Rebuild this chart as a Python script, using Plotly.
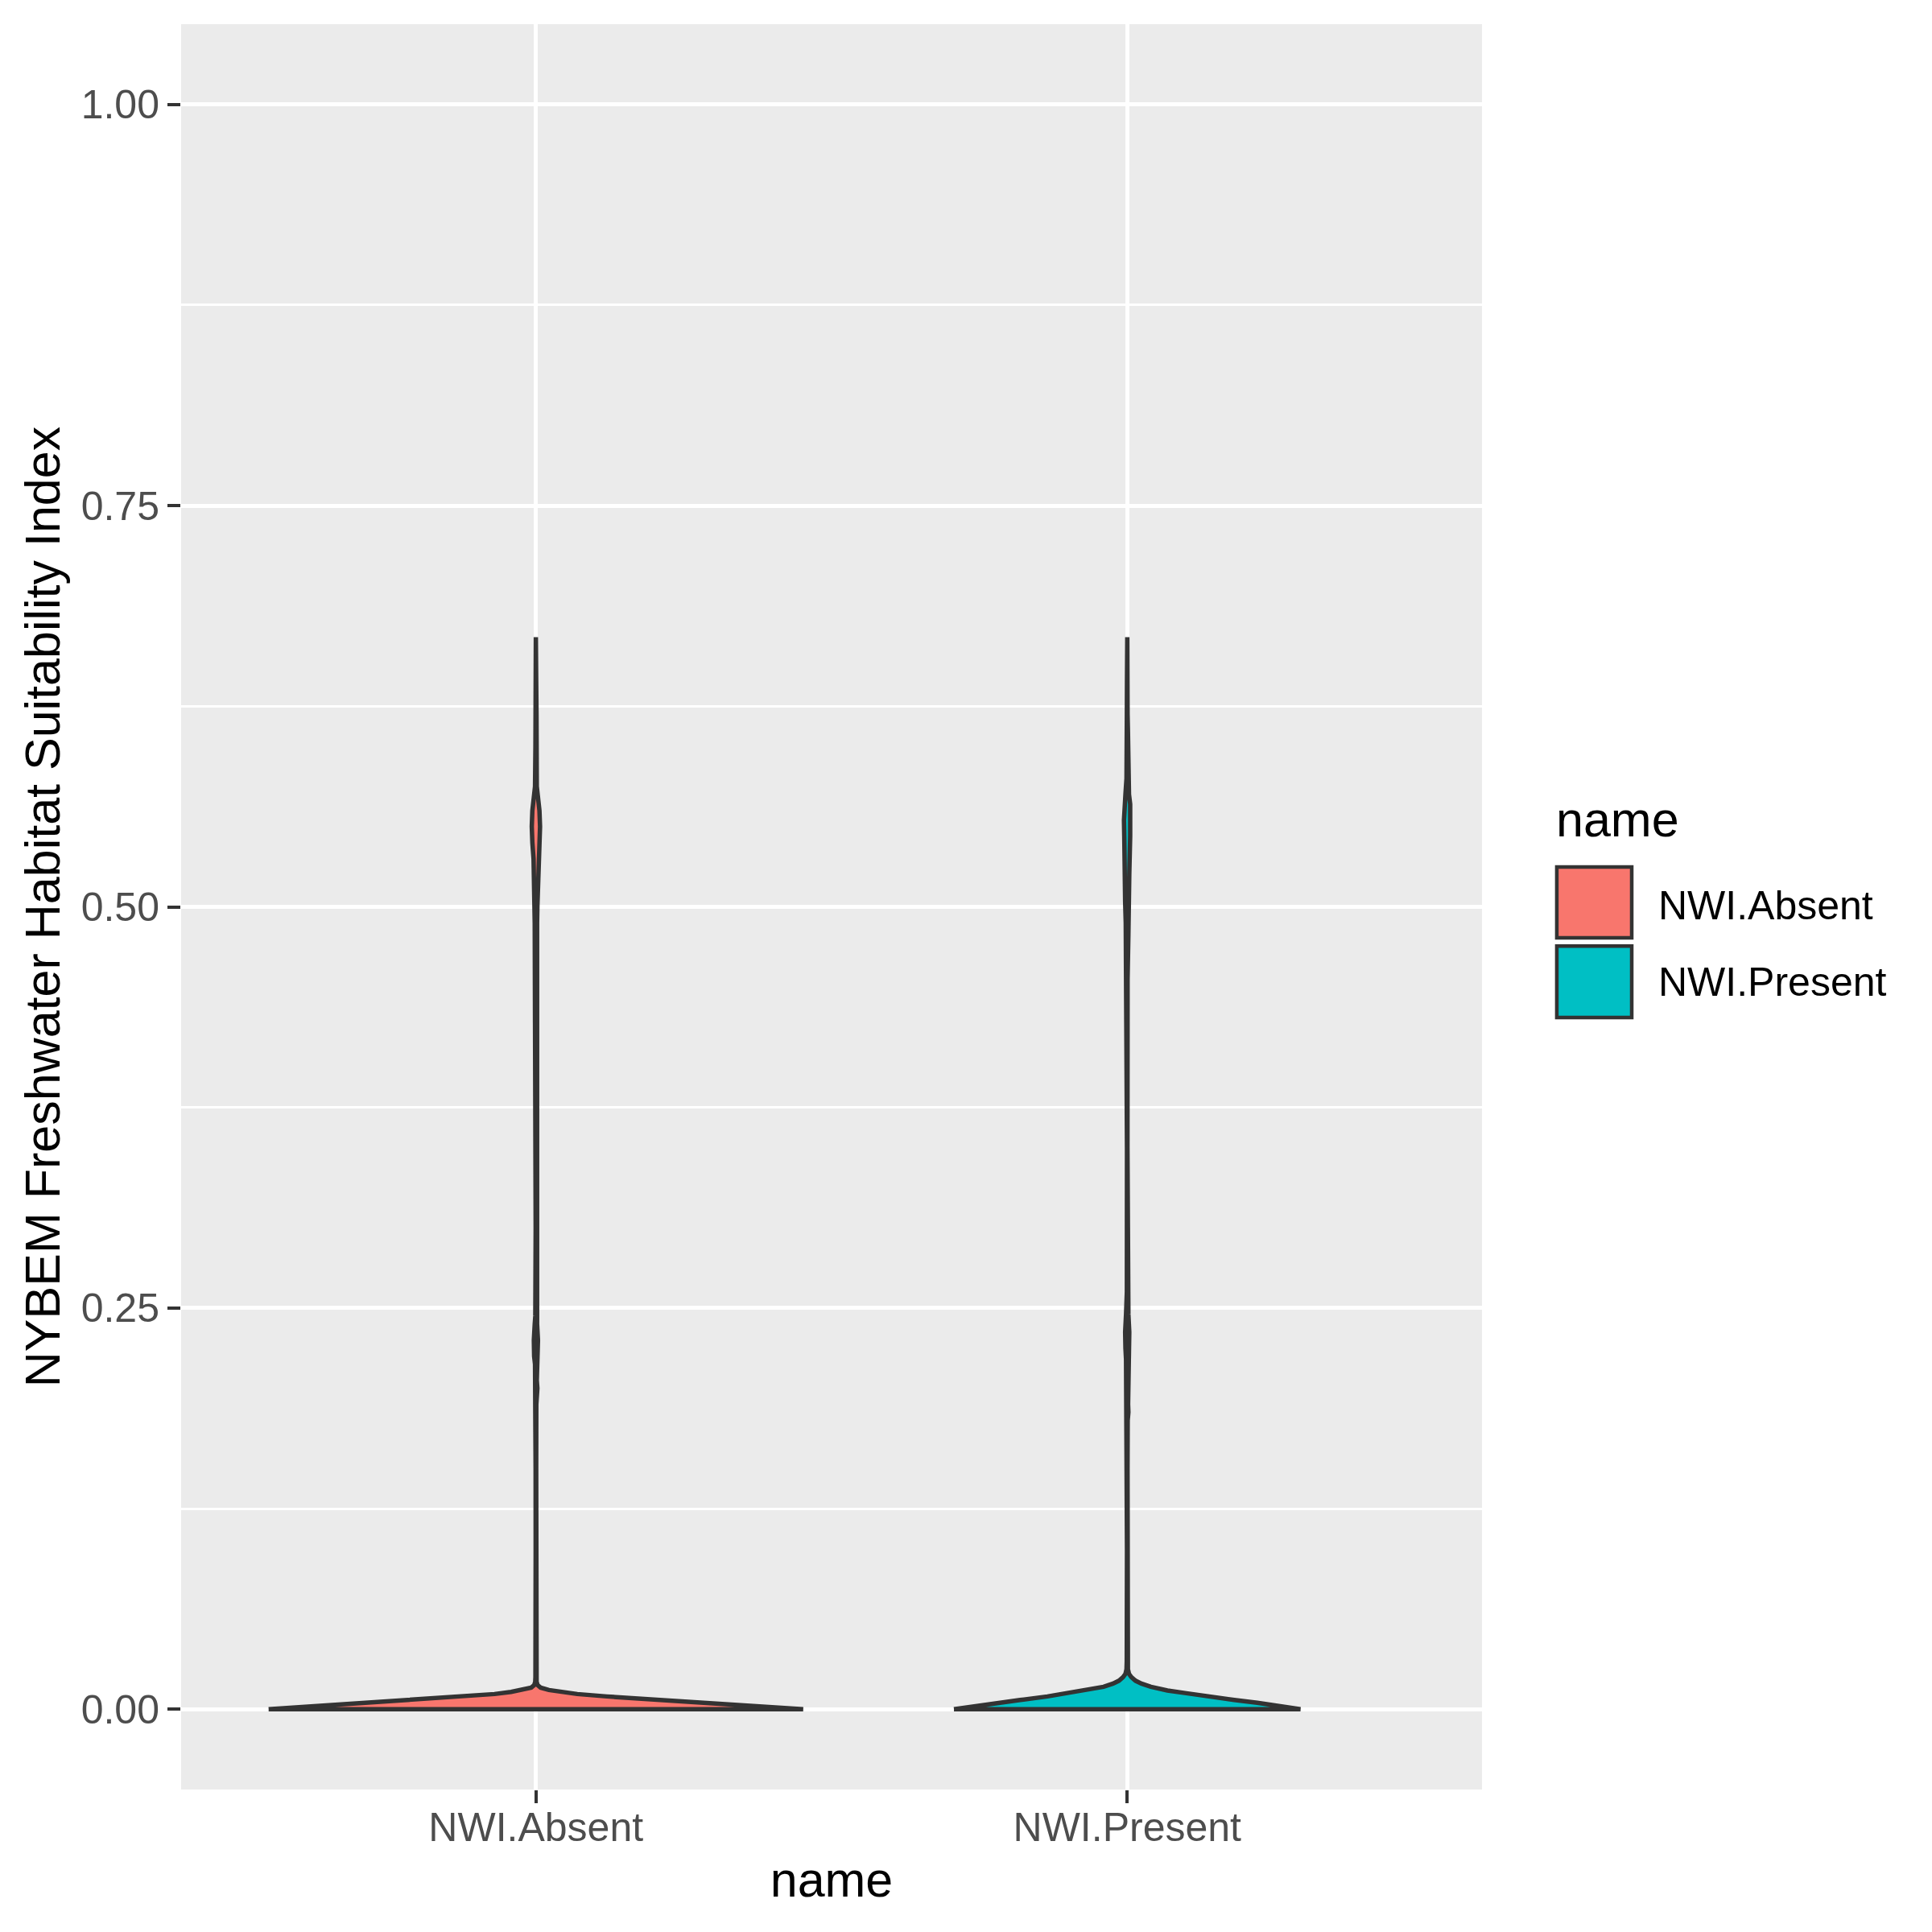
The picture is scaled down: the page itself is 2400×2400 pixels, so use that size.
import plotly.graph_objects as go

# ---------------- data ----------------
categories = ["NWI.Absent", "NWI.Present"]
fill_colors = ["#F8766D", "#00BFC4"]
y_ticks = [0.0, 0.25, 0.5, 0.75, 1.0]
y_tick_labels = ["0.00", "0.25", "0.50", "0.75", "1.00"]

# violin density profile: y values and half-widths (in category units)
absent_y = [0, 0.001, 0.002, 0.004, 0.0058, 0.008, 0.0095, 0.0108, 0.012, 0.0135,
            0.015, 0.017, 0.02, 0.03, 0.10, 0.15, 0.19, 0.195, 0.20, 0.205, 0.21,
            0.215, 0.22, 0.23, 0.24, 0.245, 0.30, 0.40, 0.46, 0.47, 0.48, 0.49,
            0.50, 0.51, 0.52, 0.53, 0.54, 0.55, 0.56, 0.57, 0.575, 0.60, 0.62,
            0.64, 0.668]
absent_w = [0.452, 0.41, 0.368, 0.29, 0.205, 0.12, 0.07, 0.042, 0.022, 0.008,
            0.003, 0.0012, 0.0008, 0.0006, 0.0004, 0.0005, 0.0007, 0.002, 0.0025,
            0.0015, 0.001, 0.0015, 0.003, 0.0035, 0.002, 0.001, 0.0004, 0.0004,
            0.0008, 0.0015, 0.002, 0.002, 0.0025, 0.003, 0.003, 0.004, 0.006,
            0.007, 0.006, 0.003, 0.0015, 0.0008, 0.001, 0.0005, 0.0001]

present_y = [0, 0.001, 0.0025, 0.004, 0.0058, 0.008, 0.010, 0.0117, 0.014, 0.016,
             0.0178, 0.020, 0.022, 0.025, 0.03, 0.10, 0.15, 0.18, 0.185, 0.19,
             0.20, 0.218, 0.225, 0.235, 0.246, 0.26, 0.35, 0.44, 0.447, 0.455,
             0.483, 0.49, 0.503, 0.52, 0.544, 0.554, 0.564, 0.57, 0.58, 0.595,
             0.61, 0.62, 0.64, 0.668]
present_w = [0.293, 0.275, 0.25, 0.22, 0.181, 0.135, 0.10, 0.068, 0.04, 0.024,
             0.014, 0.007, 0.003, 0.0012, 0.0008, 0.0004, 0.0005, 0.0008, 0.002,
             0.0015, 0.0008, 0.002, 0.003, 0.0035, 0.002, 0.0006, 0.0004, 0.0006,
             0.0015, 0.0006, 0.002, 0.0025, 0.0035, 0.0035, 0.005, 0.0055, 0.005,
             0.003, 0.0012, 0.0015, 0.0012, 0.0006, 0.0004, 0.0001]

profiles = [(absent_y, absent_w), (present_y, present_w)]

# ---------------- figure ----------------
fig = go.Figure()
outline = "#333333"
for i, (name, col, (ys, ws)) in enumerate(zip(categories, fill_colors, profiles)):
    center = i + 1
    xs = [center - w for w in ws] + [center + w for w in reversed(ws)]
    yy = list(ys) + list(reversed(ys))
    xs.append(xs[0])
    yy.append(yy[0])
    fig.add_trace(go.Scatter(
        x=xs, y=yy, mode="lines", fill="toself", fillcolor=col,
        line=dict(color=outline, width=5.5), name=name, showlegend=False,
        hoverinfo="skip"))

# manual ggplot-style legend
key_x0, key_x1 = 1.0575, 1.1151
key_rows = [(0.4825, 0.5226), (0.4373, 0.4778)]
label_y = [0.5007, 0.4574]
for (y0, y1), col, lab, ly in zip(key_rows, fill_colors, categories, label_y):
    fig.add_shape(type="rect", xref="paper", yref="paper",
                  x0=key_x0, x1=key_x1, y0=y0, y1=y1,
                  fillcolor=col, line=dict(color=outline, width=4.5))
    fig.add_annotation(xref="paper", yref="paper", x=1.1345, y=ly,
                       text=lab, showarrow=False, xanchor="left", yanchor="middle",
                       font=dict(size=50, color="black", family="Liberation Sans, Arial"))
fig.add_annotation(xref="paper", yref="paper", x=1.0555, y=0.5495, text="name",
                   showarrow=False, xanchor="left", yanchor="middle",
                   font=dict(size=61, color="black", family="Liberation Sans, Arial"))

fig.update_layout(
    width=2400, height=2400,
    margin=dict(l=225, r=559, t=30, b=177),
    paper_bgcolor="white", plot_bgcolor="#EBEBEB",
    font=dict(family="Liberation Sans, Arial", color="black"),
    showlegend=False,
)
fig.update_xaxes(
    range=[0.4, 2.6], tickmode="array", tickvals=[1, 2], ticktext=categories,
    showgrid=True, gridcolor="white", gridwidth=5, zeroline=False,
    ticks="outside", ticklen=16, tickwidth=4, tickcolor="#333333",
    tickfont=dict(size=50, color="#4D4D4D"), ticklabelstandoff=-13,
    title=dict(text="name", font=dict(size=61, color="black"), standoff=16),
    showline=False,
)
fig.update_yaxes(
    range=[-0.05, 1.05], tickmode="array", tickvals=y_ticks, ticktext=y_tick_labels,
    showgrid=True, gridcolor="white", gridwidth=5, zeroline=False,
    minor=dict(tickmode="array", tickvals=[0.125, 0.375, 0.625, 0.875],
               showgrid=True, gridcolor="white", gridwidth=2.5),
    ticks="outside", ticklen=16, tickwidth=4, tickcolor="#333333",
    tickfont=dict(size=50, color="#4D4D4D"), ticklabelstandoff=0,
    title=dict(text="NYBEM Freshwater Habitat Suitability Index",
               font=dict(size=61, color="black"), standoff=6),
    showline=False,
)

fig.write_html("out.html")
